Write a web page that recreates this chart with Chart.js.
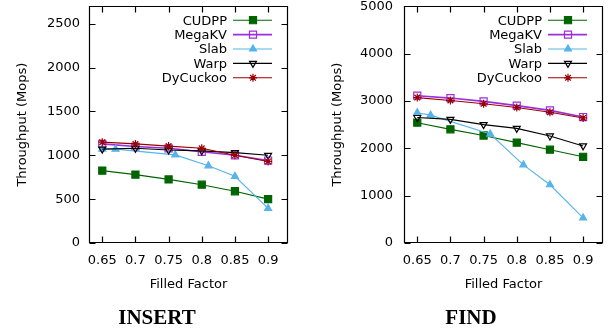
<!DOCTYPE html>
<html>
<head>
<meta charset="UTF-8">
<title>Insert / Find throughput</title>
<script src="https://cdn.jsdelivr.net/npm/chart.js"></script>
<style>
	body { margin: 0; background: #fff; }
	#wrap { position: relative; width: 610px; height: 331px; }
	canvas { position: absolute; top: 0; }
	.cap { position: absolute; top: 305px; font: bold 21px "Liberation Serif", serif; transform: translateX(-50%); }
</style>
</head>
<body>
<div id="wrap">
	<canvas id="insertChart" width="300" height="331" style="left:0"></canvas>
	<canvas id="findChart" width="310" height="331" style="left:300px"></canvas>
	<div class="cap" style="left:157px">INSERT</div>
	<div class="cap" style="left:471px">FIND</div>
</div>

<script>
// x 값 (Filled Factor)
const factors = [0.65, 0.7, 0.75, 0.8, 0.85, 0.9];
const factorLabels = ['0.65', '0.7', '0.75', '0.8', '0.85', '0.9'];
// Slab 은 x 위치가 조금 어긋나 있음
const slabFactors = [0.65, 0.67, 0.76, 0.81, 0.85, 0.9];

const seriesNames = ['CUDPP', 'MegaKV', 'Slab', 'Warp', 'DyCuckoo'];

// INSERT (Mops)
const insCudpp    = [825, 780, 725, 665, 590, 500];
const insMegakv   = [1130, 1100, 1080, 1040, 1000, 940];
const insSlab     = [1070, 1070, 1005, 880, 760, 395];
const insWarp     = [1070, 1080, 1060, 1050, 1030, 1000];
const insDycuckoo = [1150, 1130, 1105, 1080, 1000, 930];

// FIND (Mops)
const findCudpp    = [2540, 2400, 2270, 2120, 1970, 1820];
const findMegakv   = [3110, 3060, 2990, 2900, 2800, 2660];
const findSlab     = [2750, 2700, 2300, 1650, 1230, 530];
const findWarp     = [2650, 2610, 2500, 2420, 2260, 2050];
const findDycuckoo = [3070, 3010, 2940, 2860, 2760, 2640];

const fontFamily = '"DejaVu Sans", sans-serif';

// 시리즈별 스타일
const styles = [
	{ color: '#006400', pointStyle: 'rect', fill: true, radius: 5, rot: 0 },
	{ color: '#9b30d9', pointStyle: 'rect', fill: false, radius: 5, rot: 0 },
	{ color: '#56b4e9', pointStyle: 'triangle', fill: true, radius: 4, rot: 0 },
	{ color: '#000000', pointStyle: 'triangle', fill: false, radius: 4, rot: 180 },
	{ color: '#9b0000', pointStyle: 'star', fill: false, radius: 4, rot: 0 }
];

function makeDatasets(lists){
	return lists.map(function(vals, i){
		const xs = (i === 2) ? slabFactors : factors;
		const s = styles[i];
		return {
			label: seriesNames[i],
			data: vals.map(function(v, k){ return { x: xs[k], y: v }; }),
			borderColor: s.color,
			backgroundColor: s.fill ? s.color : '#ffffff',
			pointBorderColor: s.color,
			pointBackgroundColor: s.fill ? s.color : 'rgba(255,255,255,0)',
			pointStyle: s.pointStyle,
			pointRotation: s.rot,
			pointRadius: s.radius,
			pointBorderWidth: 1.2,
			borderWidth: (i === 1) ? 1.6 : 1.1,
			tension: 0,
			order: 5 - i
		};
	});
}

// 테두리 + 안쪽 눈금 + 범례
const framePlugin = {
	id: 'frame',
	afterDatasetsDraw(chart){
		const ctx = chart.ctx;
		const a = chart.chartArea;
		const xs = chart.scales.x, ys = chart.scales.y;
		const L = Math.round(a.left) + 0.5, R = Math.round(a.right) - 0.5;
		const T = Math.round(a.top) + 0.5, B = Math.round(a.bottom) - 0.5;
		ctx.save();
		ctx.strokeStyle = '#000000';
		ctx.lineWidth = 1.2;
		ctx.beginPath();
		ctx.moveTo(L, T); ctx.lineTo(R, T); ctx.lineTo(R, B); ctx.lineTo(L, B); ctx.closePath();
		xs.ticks.forEach(function(t){
			const px = Math.round(xs.getPixelForValue(t.value)) + 0.5;
			ctx.moveTo(px, B); ctx.lineTo(px, B - 6);
			ctx.moveTo(px, T); ctx.lineTo(px, T + 6);
		});
		ys.ticks.forEach(function(t){
			const py = Math.round(ys.getPixelForValue(t.value)) + 0.5;
			ctx.moveTo(L, py); ctx.lineTo(L + 6, py);
			ctx.moveTo(R, py); ctx.lineTo(R - 6, py);
		});
		ctx.stroke();

		// 범례 (글자 오른쪽 정렬, 선 샘플은 오른쪽)
		ctx.font = '13px ' + fontFamily;
		ctx.textAlign = 'right';
		ctx.textBaseline = 'middle';
		chart.data.datasets.forEach(function(ds, i){
			const y = a.top + 14 + i * 14.4;
			ctx.fillStyle = '#000';
			ctx.fillText(ds.label, a.right - 61, y + 1);
			ctx.strokeStyle = ds.borderColor;
			ctx.lineWidth = ds.borderWidth;
			ctx.beginPath();
			ctx.moveTo(a.right - 55, y); ctx.lineTo(a.right - 16, y);
			ctx.stroke();
			ctx.lineWidth = ds.pointBorderWidth;
			ctx.fillStyle = ds.pointBackgroundColor;
			Chart.helpers.drawPoint(ctx, {
				pointStyle: ds.pointStyle,
				rotation: ds.pointRotation,
				radius: ds.pointRadius,
				borderWidth: ds.pointBorderWidth
			}, a.right - 35, y);
		});
		ctx.restore();
	}
};

function buildChart(id, lists, yMax, yStep, yWidth, yTitlePad, yTickPad, padRight){
	const ctx = document.getElementById(id).getContext('2d');
	return new Chart(ctx, {
		type: 'line',
		data: { datasets: makeDatasets(lists) },
		options: {
			responsive: false,
			animation: false,
			layout: { padding: { top: 5, right: padRight, bottom: 36, left: 0 } },
			plugins: { legend: { display: false }, tooltip: { enabled: false } },
			scales: {
				x: {
					type: 'linear',
					min: 0.63,
					max: 0.93,
					afterBuildTicks: function(scale){
						scale.ticks = factors.map(function(v){ return { value: v }; });
					},
					afterFit: function(scale){
						scale.height = 52;
						scale.paddingLeft = 0;
						scale.paddingRight = 0;
					},
					grid: { display: false, drawTicks: false },
					border: { display: false },
					ticks: {
						padding: 10,
						color: '#000',
						font: { family: fontFamily, size: 13 },
						callback: function(v){
							const k = factors.indexOf(v);
							return k >= 0 ? factorLabels[k] : '';
						}
					},
					title: {
						display: true,
						text: 'Filled Factor',
						color: '#000',
						font: { family: fontFamily, size: 13 },
						padding: { top: 0, bottom: 3 }
					}
				},
				y: {
					min: 0,
					max: yMax,
					afterBuildTicks: function(scale){
						const t = [];
						for(let v = 0; v <= yMax; v += yStep){ t.push({ value: v }); }
						scale.ticks = t;
					},
					afterFit: function(scale){
						scale.width = yWidth;
						scale.paddingTop = 0;
						scale.paddingBottom = 0;
					},
					grid: { display: false, drawTicks: false },
					border: { display: false },
					ticks: {
						padding: yTickPad,
						color: '#000',
						font: { family: fontFamily, size: 13 },
						callback: function(v){ return String(v); }
					},
					title: {
						display: true,
						text: 'Throughput (Mops)',
						color: '#000',
						font: { family: fontFamily, size: 13 },
						padding: { top: yTitlePad, bottom: 0 }
					}
				}
			}
		},
		plugins: [framePlugin]
	});
}

buildChart('insertChart', [insCudpp, insMegakv, insSlab, insWarp, insDycuckoo], 2700, 500, 89, 15, 9, 12);
buildChart('findChart', [findCudpp, findMegakv, findSlab, findWarp, findDycuckoo], 5000, 1000, 104, 30, 11, 7);
</script>
</body>
</html>
